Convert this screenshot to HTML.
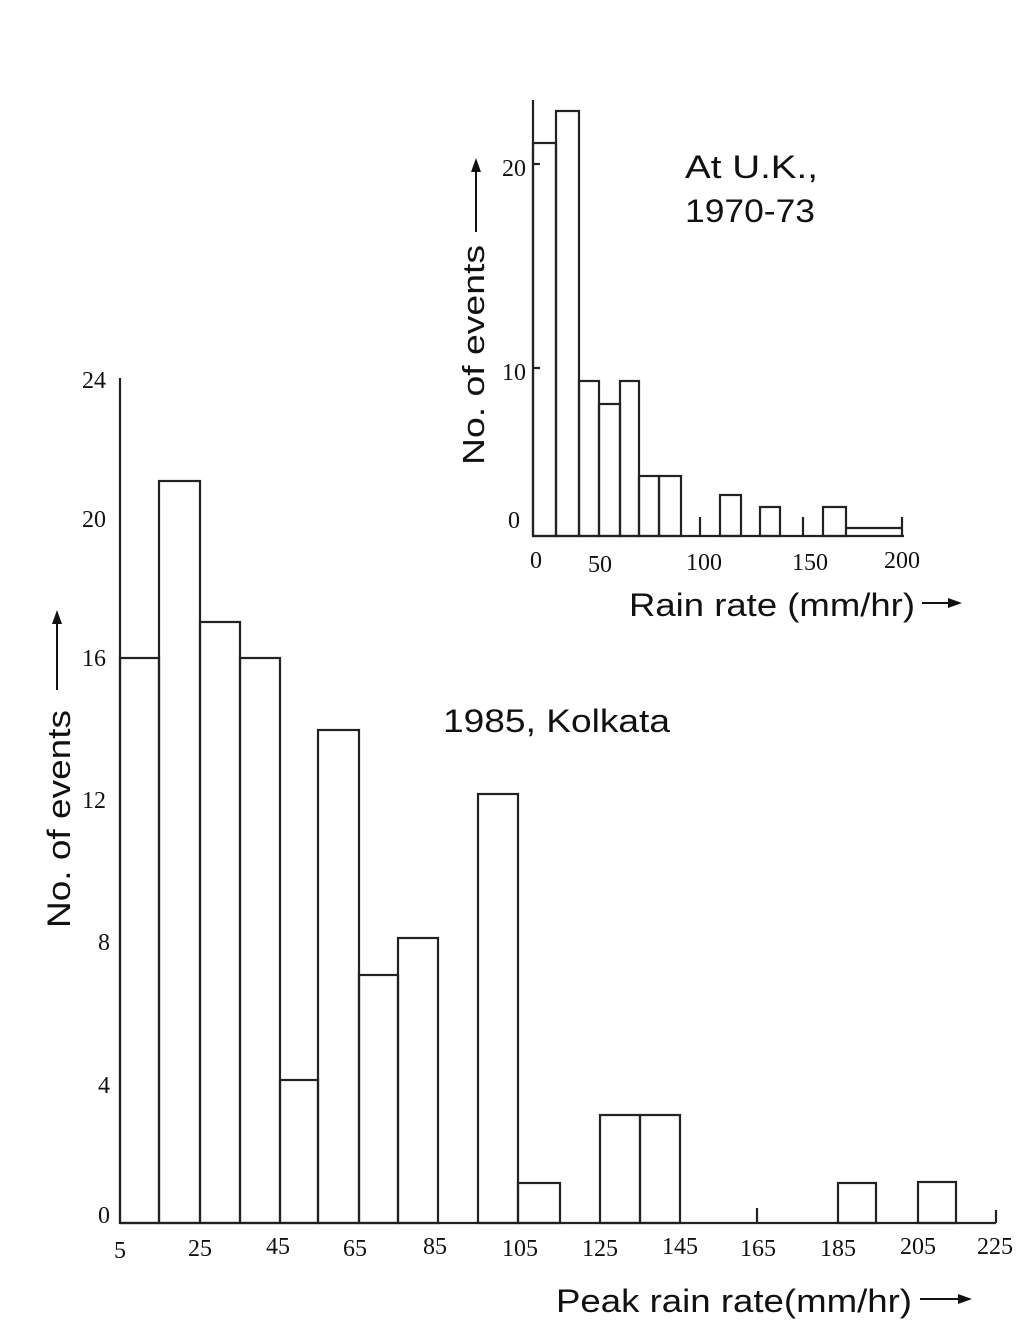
<!DOCTYPE html>
<html><head><meta charset="utf-8"><style>
html,body{margin:0;padding:0;background:#fff;}
svg{display:block;}
text{font-family:"Liberation Sans",sans-serif;fill:#111;}
.s{font-family:"Liberation Serif",serif;}
</style></head><body>
<svg width="1026" height="1341" viewBox="0 0 1026 1341" xmlns="http://www.w3.org/2000/svg">
<g stroke="#222" stroke-width="2.2" fill="none">
<line x1="120" y1="378" x2="120" y2="1223"/>
<line x1="120" y1="1223" x2="996" y2="1223"/>
<line x1="996" y1="1210" x2="996" y2="1223"/>
<rect x="120" y="658" width="39" height="565"/>
<rect x="159" y="481" width="41" height="742"/>
<rect x="200" y="622" width="40" height="601"/>
<rect x="240" y="658" width="40" height="565"/>
<rect x="280" y="1080" width="38" height="143"/>
<rect x="318" y="730" width="41" height="493"/>
<rect x="359" y="975" width="39" height="248"/>
<rect x="398" y="938" width="40" height="285"/>
<rect x="478" y="794" width="40" height="429"/>
<rect x="518" y="1183" width="42" height="40"/>
<rect x="600" y="1115" width="40" height="108"/>
<rect x="640" y="1115" width="40" height="108"/>
<line x1="757" y1="1208" x2="757" y2="1223"/>
<rect x="838" y="1183" width="38" height="40"/>
<rect x="918" y="1182" width="38" height="41"/>
<line x1="533" y1="100" x2="533" y2="536"/>
<line x1="533" y1="536" x2="904" y2="536"/>
<line x1="533" y1="164" x2="540" y2="164"/>
<line x1="533" y1="368" x2="540" y2="368"/>
<rect x="533" y="143" width="23" height="393"/>
<rect x="556" y="111" width="23" height="425"/>
<rect x="579" y="381" width="20" height="155"/>
<rect x="599" y="404" width="21" height="132"/>
<rect x="620" y="381" width="19" height="155"/>
<rect x="639" y="476" width="20" height="60"/>
<rect x="659" y="476" width="22" height="60"/>
<line x1="700" y1="517" x2="700" y2="536"/>
<rect x="720" y="495" width="21" height="41"/>
<rect x="760" y="507" width="20" height="29"/>
<line x1="803" y1="517" x2="803" y2="536"/>
<rect x="823" y="507" width="23" height="29"/>
<polyline points="846,528 902,528"/>
<line x1="902" y1="517" x2="902" y2="536"/>
</g>
<g font-size="24">
<text class="s" x="82" y="388">24</text>
<text class="s" x="82" y="527">20</text>
<text class="s" x="82" y="666">16</text>
<text class="s" x="82" y="808">12</text>
<text class="s" x="98" y="950">8</text>
<text class="s" x="98" y="1093">4</text>
<text class="s" x="98" y="1223">0</text>
</g>
<g font-size="24" text-anchor="middle">
<text class="s" x="120" y="1258">5</text>
<text class="s" x="200" y="1256">25</text>
<text class="s" x="278" y="1254">45</text>
<text class="s" x="355" y="1256">65</text>
<text class="s" x="435" y="1254">85</text>
<text class="s" x="520" y="1256">105</text>
<text class="s" x="600" y="1256">125</text>
<text class="s" x="680" y="1254">145</text>
<text class="s" x="758" y="1256">165</text>
<text class="s" x="838" y="1256">185</text>
<text class="s" x="918" y="1254">205</text>
<text class="s" x="995" y="1254">225</text>
</g>
<text x="556" y="1312" font-size="32" textLength="356" lengthAdjust="spacingAndGlyphs">Peak rain rate(mm/hr)</text>
<line x1="920" y1="1299" x2="962" y2="1299" stroke="#111" stroke-width="2"/>
<polygon points="972,1299 958,1294 958,1304" fill="#111"/>
<text x="443" y="732" font-size="32" textLength="227" lengthAdjust="spacingAndGlyphs">1985, Kolkata</text>
<text transform="translate(70,928) rotate(-90)" font-size="32" textLength="218" lengthAdjust="spacingAndGlyphs">No. of events</text>
<line x1="57" y1="690" x2="57" y2="622" stroke="#111" stroke-width="2"/>
<polygon points="57,610 52,624 62,624" fill="#111"/>
<g font-size="24">
<text class="s" x="502" y="176">20</text>
<text class="s" x="502" y="380">10</text>
<text class="s" x="508" y="528">0</text>
<text class="s" x="530" y="568">0</text>
<text class="s" x="588" y="572">50</text>
<text class="s" x="686" y="570">100</text>
<text class="s" x="792" y="570">150</text>
<text class="s" x="884" y="568">200</text>
</g>
<text x="629" y="616" font-size="32" textLength="286" lengthAdjust="spacingAndGlyphs">Rain rate (mm/hr)</text>
<line x1="922" y1="603" x2="952" y2="603" stroke="#111" stroke-width="2"/>
<polygon points="962,603 948,598 948,608" fill="#111"/>
<text x="685" y="178" font-size="32" textLength="133" lengthAdjust="spacingAndGlyphs">At U.K.,</text>
<text x="685" y="222" font-size="32" textLength="130" lengthAdjust="spacingAndGlyphs">1970-73</text>
<text transform="translate(484,465) rotate(-90)" font-size="31" textLength="220" lengthAdjust="spacingAndGlyphs">No. of events</text>
<line x1="476" y1="232" x2="476" y2="170" stroke="#111" stroke-width="2"/>
<polygon points="476,158 471,172 481,172" fill="#111"/>
</svg>
</body></html>
